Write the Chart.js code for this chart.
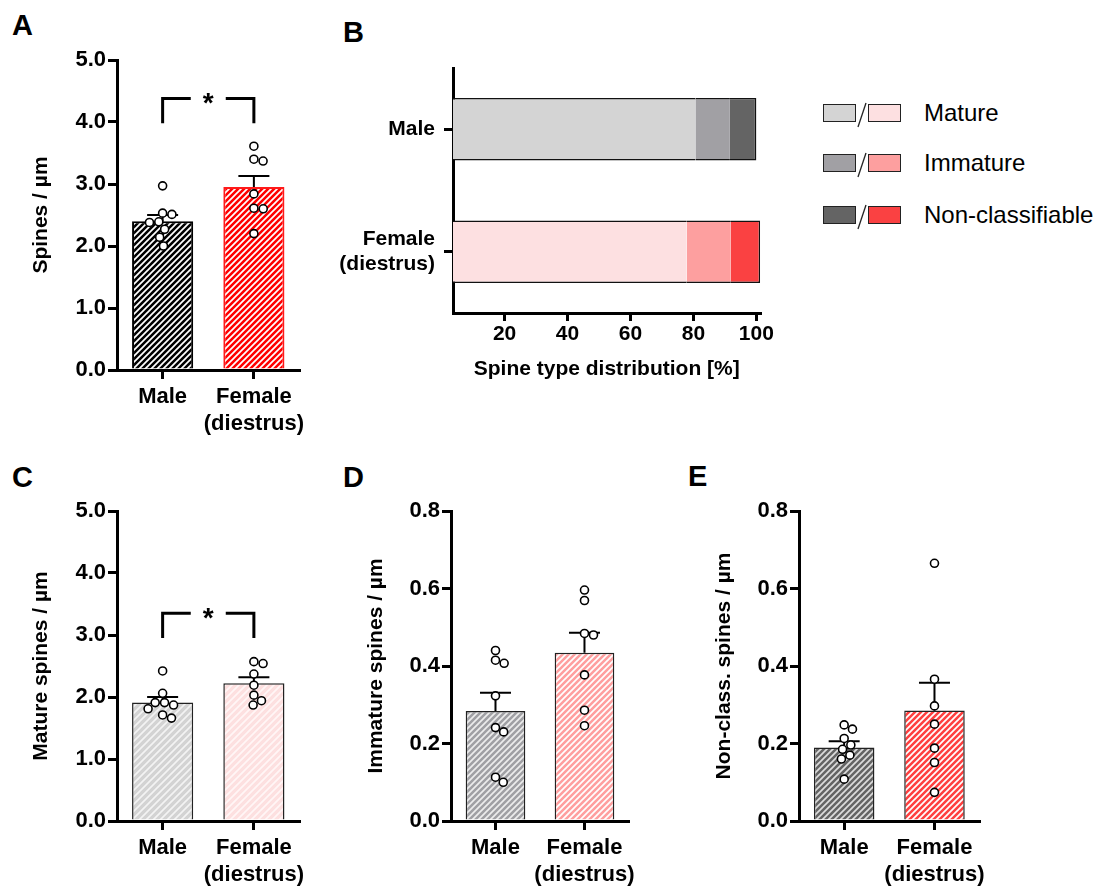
<!DOCTYPE html>
<html>
<head>
<meta charset="utf-8">
<script src="https://cdn.jsdelivr.net/npm/chart.js@4.4.1/dist/chart.umd.min.js"></script>
<style>
  body { margin: 0; background: #fff; width: 1113px; height: 888px; position: relative; overflow: hidden;
         font-family: 'Liberation Sans', Arial, Helvetica, sans-serif; }
  canvas { position: absolute; }
  .letter { position: absolute; font-weight: bold; font-size: 29px; line-height: 29px; }
  .leg { position: absolute; left: 823px; height: 24px; display: flex; align-items: center; font-size: 24px; line-height: 24px; }
  .sw { display: inline-block; width: 31px; height: 16px; border: 1.5px solid #222; }
  .leg svg { display: block; margin-top: 4px; }
  .leg .lab { margin-left: 23px; }
</style>
</head>
<body>
<div class="letter" style="left:12px;top:11px">A</div>
<div class="letter" style="left:343px;top:18px">B</div>
<div class="letter" style="left:12px;top:463px">C</div>
<div class="letter" style="left:343px;top:463px">D</div>
<div class="letter" style="left:688px;top:462px">E</div>

<canvas id="chartA" width="310" height="420" style="left:0;top:40px"></canvas>
<canvas id="chartB" width="445" height="350" style="left:330px;top:40px"></canvas>
<canvas id="chartC" width="310" height="398" style="left:0;top:490px"></canvas>
<canvas id="chartD" width="300" height="398" style="left:340px;top:490px"></canvas>
<canvas id="chartE" width="300" height="398" style="left:690px;top:490px"></canvas>
<div id="legendB"></div>

<script>
Chart.defaults.font.family = "'Liberation Sans', Arial, Helvetica, sans-serif";
Chart.defaults.color = '#000';

const groups = ['Male', ['Female', '(diestrus)']];

// A - total spines
const spinesMale = [2.97, 2.53, 2.51, 2.39, 2.38, 2.27, 2.14, 2.00];
const spinesFemale = [3.61, 3.40, 3.37, 2.84, 2.61, 2.60, 2.20];
const spinesMean = [2.40, 2.95];
const spinesSem = [0.10, 0.18];
const spinesBracket = [4.38, 3.98];

// B - spine type distribution (%)
const distTypes = ['Mature', 'Immature', 'Non-classifiable'];
const matureDist = [80.6, 77.9];
const immatureDist = [11.0, 14.0];
const nonClassDist = [8.4, 9.3];
const distTicks = [20, 40, 60, 80, 100];

// C - mature spines
const matureMale = [2.42, 2.06, 1.91, 1.91, 1.87, 1.81, 1.71, 1.66];
const matureFemale = [2.57, 2.54, 2.37, 2.19, 2.03, 1.94, 1.87];
const matureMean = [1.91, 2.22];
const matureSem = [0.09, 0.10];
const matureBracket = [3.35, 2.95];

// D - immature spines
const immatureMale = [0.440, 0.415, 0.407, 0.323, 0.241, 0.230, 0.113, 0.100];
const immatureFemale = [0.596, 0.569, 0.484, 0.480, 0.377, 0.286, 0.246];
const immatureMean = [0.284, 0.434];
const immatureSem = [0.047, 0.052];

// E - non-classifiable spines
const nonClassMale = [0.248, 0.237, 0.213, 0.196, 0.185, 0.170, 0.160, 0.108];
const nonClassFemale = [0.665, 0.366, 0.297, 0.250, 0.188, 0.151, 0.074];
const nonClassMean = [0.190, 0.285];
const nonClassSem = [0.016, 0.072];

const FONT = "'Liberation Sans', Arial, Helvetica, sans-serif";

function hatch(bg, line, gap) {
  const c = document.createElement('canvas');
  c.width = c.height = gap;
  const g = c.getContext('2d');
  g.fillStyle = bg;
  g.fillRect(0, 0, gap, gap);
  g.strokeStyle = line;
  g.lineWidth = 1.7;
  g.beginPath();
  g.moveTo(-1, gap + 1); g.lineTo(gap + 1, -1);
  g.moveTo(-2, 2); g.lineTo(2, -2);
  g.moveTo(gap - 2, gap + 2); g.lineTo(gap + 2, gap - 2);
  g.stroke();
  return g.createPattern(c, 'repeat');
}

// simple beeswarm so the dots don't sit on top of each other
function swarm(values, yMax) {
  const ky = 310 / yMax, kx = 92.5, d = 9.5;
  const placed = [];
  return values.map(v => {
    const y = v * ky;
    const cands = [0];
    placed.forEach(p => {
      const dy = Math.abs(p.y - y);
      if (dy < d) {
        const dx = Math.sqrt(d * d - dy * dy);
        cands.push(p.x + dx, p.x - dx);
      }
    });
    cands.sort((a, b) => Math.abs(a) - Math.abs(b));
    const x = cands.find(c => placed.every(p => Math.hypot(p.x - c, p.y - y) >= d - 0.01));
    placed.push({x: x, y: y});
    return x / kx;
  });
}

function errorBars(mean, sem, bracket) {
  return {
    id: 'errorBars',
    beforeDatasetDraw(chart, args) {
      if (args.meta.type !== 'scatter') return;
      const ctx = chart.ctx, xs = chart.scales.x, ys = chart.scales.y;
      ctx.save();
      ctx.strokeStyle = '#000';
      ctx.lineWidth = 2;
      mean.forEach((m, i) => {
        const px = xs.getPixelForValue(i);
        const base = ys.getPixelForValue(m), top = ys.getPixelForValue(m + sem[i]);
        ctx.beginPath();
        ctx.moveTo(px, base); ctx.lineTo(px, top);
        ctx.moveTo(px - 15.5, top); ctx.lineTo(px + 15.5, top);
        ctx.stroke();
      });
      ctx.restore();
    },
    afterDatasetsDraw(chart) {
      if (!bracket) return;
      const ctx = chart.ctx, xs = chart.scales.x, ys = chart.scales.y;
      const x0 = xs.getPixelForValue(0), x1 = xs.getPixelForValue(1);
      const yt = ys.getPixelForValue(bracket[0]), yb = ys.getPixelForValue(bracket[1]);
      const mid = (x0 + x1) / 2, gap = 17.5;
      ctx.save();
      ctx.strokeStyle = '#000';
      ctx.lineWidth = 3;
      ctx.beginPath();
      ctx.moveTo(x0, yb); ctx.lineTo(x0, yt); ctx.lineTo(mid - gap, yt);
      ctx.moveTo(mid + gap, yt); ctx.lineTo(x1, yt); ctx.lineTo(x1, yb);
      ctx.stroke();
      ctx.fillStyle = '#000';
      ctx.font = 'bold 28px ' + FONT;
      ctx.textAlign = 'center';
      ctx.textBaseline = 'middle';
      ctx.fillText('*', mid, yt + 6);
      ctx.restore();
    }
  };
}

function barPanel(id, cfg) {
  const pts = [];
  [cfg.male, cfg.female].forEach((vals, g) => {
    const jit = swarm(vals, cfg.yMax);
    vals.forEach((v, k) => pts.push({x: g + jit[k], y: v}));
  });
  const axisGrid = {drawOnChartArea: false, tickLength: 9, lineWidth: 3, color: '#000'};
  const tickFont = {size: 22, weight: 'bold', lineHeight: 1.25};
  return new Chart(document.getElementById(id), {
    type: 'bar',
    data: {
      labels: groups,
      datasets: [
        {
          data: cfg.mean,
          backgroundColor: cfg.fill,
          borderColor: cfg.edge,
          borderWidth: cfg.edgeW,
          grouped: false,
          barPercentage: 0.67,
          categoryPercentage: 1,
          order: 2
        },
        {
          type: 'scatter',
          data: pts,
          xAxisID: 'xj',
          pointRadius: 4,
          pointBorderWidth: 1.6,
          pointBackgroundColor: '#fff',
          pointBorderColor: '#000',
          order: 1
        }
      ]
    },
    options: {
      responsive: false,
      animation: false,
      events: [],
      layout: {padding: cfg.pad},
      plugins: {legend: {display: false}, tooltip: {enabled: false}},
      scales: {
        x: {
          offset: true,
          z: 1,
          grid: Object.assign({offset: false}, axisGrid),
          border: {color: '#000', width: 3},
          ticks: {autoSkip: false, maxRotation: 0, padding: 4, font: tickFont},
          afterFit: s => { s.height = cfg.xh; }
        },
        xj: {type: 'linear', display: false, offset: false, grid: {offset: false}, min: -0.5, max: 1.5},
        y: {
          min: 0,
          max: cfg.yMax,
          z: 1,
          grid: axisGrid,
          border: {color: '#000', width: 3},
          ticks: {stepSize: cfg.step, padding: 2, font: {size: 22, weight: 'bold'}, callback: v => v.toFixed(1)},
          title: {display: true, text: cfg.title, font: {size: 21, weight: 'bold'}, padding: {top: cfg.titlePad, bottom: 0}},
          afterFit: s => { s.width = cfg.yw; }
        }
      }
    },
    plugins: [errorBars(cfg.mean, cfg.sem, cfg.bracket)]
  });
}

barPanel('chartA', {
  male: spinesMale, female: spinesFemale, mean: spinesMean, sem: spinesSem, bracket: spinesBracket,
  yMax: 5, step: 1, title: 'Spines / µm',
  fill: [hatch('#000', '#fff', 6), hatch('#ff0000', '#fff', 6)], edge: ['#000', '#ff1a1a'], edgeW: 2,
  pad: {top: 20, right: 8, left: 0, bottom: 0}, yw: 117, xh: 90, titlePad: 29
});

barPanel('chartC', {
  male: matureMale, female: matureFemale, mean: matureMean, sem: matureSem, bracket: matureBracket,
  yMax: 5, step: 1, title: 'Mature spines / µm',
  fill: [hatch('#d3d3d3', '#f3f3f3', 7), hatch('#fde0e0', '#fff6f6', 7)], edge: '#222', edgeW: 1.5,
  pad: {top: 21, right: 8, left: 0, bottom: 0}, yw: 117, xh: 67, titlePad: 29
});

barPanel('chartD', {
  male: immatureMale, female: immatureFemale, mean: immatureMean, sem: immatureSem,
  yMax: 0.8, step: 0.2, title: 'Immature spines / µm',
  fill: [hatch('#a0a0a4', '#ececec', 6), hatch('#ff9f9f', '#fff', 6)], edge: '#222', edgeW: 1.5,
  pad: {top: 21, right: 3, left: 0, bottom: 0}, yw: 111, xh: 67, titlePad: 24
});

barPanel('chartE', {
  male: nonClassMale, female: nonClassFemale, mean: nonClassMean, sem: nonClassSem,
  yMax: 0.8, step: 0.2, title: 'Non-class. spines / µm',
  fill: [hatch('#646464', '#dcdcdc', 6), hatch('#ff4040', '#fff', 6)], edge: '#222', edgeW: 1.5,
  pad: {top: 21, right: 4, left: 0, bottom: 0}, yw: 109, xh: 67, titlePad: 22
});

// B - horizontal stacked distribution
const maleShades = ['#d4d4d4', '#a1a0a4', '#646464'];
const femaleShades = ['#fde0e1', '#fd9f9f', '#fa4142'];
const distValues = [matureDist, immatureDist, nonClassDist];

const chartB = new Chart(document.getElementById('chartB'), {
  type: 'bar',
  data: {
    labels: groups,
    datasets: distTypes.map((name, i) => ({
      label: name,
      data: distValues[i],
      backgroundColor: [maleShades[i], femaleShades[i]],
      borderColor: '#111',
      borderWidth: {top: 1.5, bottom: 1.5, left: 0, right: i === 2 ? 1.5 : 0},
      borderSkipped: false,
      barPercentage: 0.51,
      categoryPercentage: 1
    }))
  },
  options: {
    indexAxis: 'y',
    responsive: false,
    animation: false,
    events: [],
    layout: {padding: {top: 28, right: 9, left: 0, bottom: 0}},
    plugins: {legend: {display: false}, tooltip: {enabled: false}},
    scales: {
      x: {
        stacked: true,
        min: 3.6,
        max: 101.3,
        z: 1,
        afterBuildTicks: s => { s.ticks = distTicks.map(v => ({value: v})); },
        grid: {drawOnChartArea: false, tickLength: 8, lineWidth: 3, color: '#000'},
        border: {color: '#000', width: 3},
        ticks: {padding: 1, font: {size: 21, weight: 'bold'}},
        title: {display: true, text: 'Spine type distribution [%]', font: {size: 21, weight: 'bold'}, padding: {top: 0, bottom: 8}},
        afterFit: s => { s.height = 77; }
      },
      y: {
        stacked: true,
        offset: true,
        z: 1,
        grid: {offset: false, drawOnChartArea: false, tickLength: 9, lineWidth: 3, color: '#000'},
        border: {color: '#000', width: 3},
        ticks: {padding: 9, font: {size: 21, weight: 'bold', lineHeight: 1.2}},
        afterFit: s => { s.width = 123; s.paddingTop = 0; s.paddingBottom = 0; }
      }
    }
  }
});

// legend for B, built from the dataset styles
const legendRows = [101, 151, 203];
document.getElementById('legendB').innerHTML = distTypes.map((name, i) =>
  '<div class="leg" style="top:' + legendRows[i] + 'px">' +
  '<span class="sw" style="background:' + maleShades[i] + '"></span>' +
  '<svg width="12" height="26"><line x1="2" y1="25" x2="10" y2="1" stroke="#222" stroke-width="1.3"/></svg>' +
  '<span class="sw" style="background:' + femaleShades[i] + '"></span>' +
  '<span class="lab">' + name + '</span></div>'
).join('');
</script>
</body>
</html>
